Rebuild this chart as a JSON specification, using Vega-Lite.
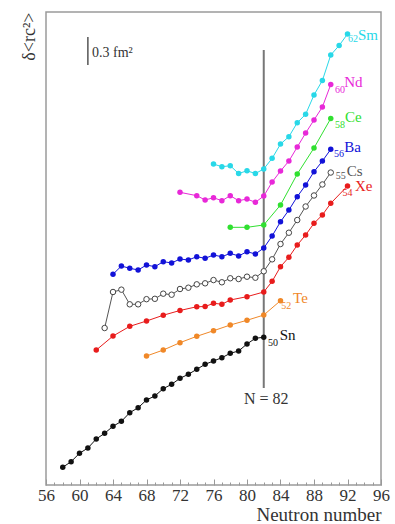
{
  "$schema": "https://vega.github.io/schema/vega-lite/v6.json",
  "width": 335,
  "height": 473,
  "autosize": "none",
  "padding": {"left": 46, "top": 12, "right": 14, "bottom": 39},
  "background": "white",
  "config": {
    "view": {"stroke": "#9a9a9a", "strokeWidth": 1.5},
    "font": "Liberation Serif, Times New Roman, serif",
    "text": {"font": "Liberation Serif, Times New Roman, serif"},
    "axis": {"labelFont": "Liberation Serif, Times New Roman, serif", "titleFont": "Liberation Serif, Times New Roman, serif"}
  },
  "datasets": {
    "series": [
      {"s": "Sn", "n": 58, "v": 0.190}, {"s": "Sn", "n": 59, "v": 0.250}, {"s": "Sn", "n": 60, "v": 0.340},
      {"s": "Sn", "n": 61, "v": 0.396}, {"s": "Sn", "n": 62, "v": 0.493}, {"s": "Sn", "n": 63, "v": 0.554},
      {"s": "Sn", "n": 64, "v": 0.629}, {"s": "Sn", "n": 65, "v": 0.682}, {"s": "Sn", "n": 66, "v": 0.775},
      {"s": "Sn", "n": 67, "v": 0.828}, {"s": "Sn", "n": 68, "v": 0.911}, {"s": "Sn", "n": 69, "v": 0.954},
      {"s": "Sn", "n": 70, "v": 1.032}, {"s": "Sn", "n": 71, "v": 1.079}, {"s": "Sn", "n": 72, "v": 1.143},
      {"s": "Sn", "n": 73, "v": 1.186}, {"s": "Sn", "n": 74, "v": 1.240}, {"s": "Sn", "n": 75, "v": 1.293},
      {"s": "Sn", "n": 76, "v": 1.329}, {"s": "Sn", "n": 77, "v": 1.364}, {"s": "Sn", "n": 78, "v": 1.411},
      {"s": "Sn", "n": 79, "v": 1.436}, {"s": "Sn", "n": 80, "v": 1.511}, {"s": "Sn", "n": 81, "v": 1.572},
      {"s": "Sn", "n": 82, "v": 1.583},
      {"s": "Te", "n": 68, "v": 1.382}, {"s": "Te", "n": 70, "v": 1.446}, {"s": "Te", "n": 72, "v": 1.525},
      {"s": "Te", "n": 74, "v": 1.593}, {"s": "Te", "n": 76, "v": 1.653}, {"s": "Te", "n": 78, "v": 1.714},
      {"s": "Te", "n": 80, "v": 1.765}, {"s": "Te", "n": 82, "v": 1.821}, {"s": "Te", "n": 84, "v": 1.975},
      {"s": "Xe", "n": 62, "v": 1.446}, {"s": "Xe", "n": 64, "v": 1.596}, {"s": "Xe", "n": 66, "v": 1.700},
      {"s": "Xe", "n": 68, "v": 1.757}, {"s": "Xe", "n": 70, "v": 1.819}, {"s": "Xe", "n": 72, "v": 1.870},
      {"s": "Xe", "n": 74, "v": 1.910}, {"s": "Xe", "n": 75, "v": 1.912}, {"s": "Xe", "n": 76, "v": 1.947},
      {"s": "Xe", "n": 77, "v": 1.937}, {"s": "Xe", "n": 78, "v": 1.982}, {"s": "Xe", "n": 80, "v": 2.018},
      {"s": "Xe", "n": 82, "v": 2.068}, {"s": "Xe", "n": 83, "v": 2.182}, {"s": "Xe", "n": 84, "v": 2.339},
      {"s": "Xe", "n": 85, "v": 2.440}, {"s": "Xe", "n": 86, "v": 2.571}, {"s": "Xe", "n": 87, "v": 2.679},
      {"s": "Xe", "n": 88, "v": 2.804}, {"s": "Xe", "n": 89, "v": 2.893}, {"s": "Xe", "n": 90, "v": 3.018},
      {"s": "Xe", "n": 92, "v": 3.204},
      {"s": "Cs", "n": 63, "v": 1.682}, {"s": "Cs", "n": 64, "v": 2.068}, {"s": "Cs", "n": 65, "v": 2.093},
      {"s": "Cs", "n": 66, "v": 1.936}, {"s": "Cs", "n": 67, "v": 1.936}, {"s": "Cs", "n": 68, "v": 1.991},
      {"s": "Cs", "n": 69, "v": 1.995}, {"s": "Cs", "n": 70, "v": 2.050}, {"s": "Cs", "n": 71, "v": 2.039},
      {"s": "Cs", "n": 72, "v": 2.100}, {"s": "Cs", "n": 73, "v": 2.114}, {"s": "Cs", "n": 74, "v": 2.150},
      {"s": "Cs", "n": 75, "v": 2.161}, {"s": "Cs", "n": 76, "v": 2.196}, {"s": "Cs", "n": 77, "v": 2.172},
      {"s": "Cs", "n": 78, "v": 2.215}, {"s": "Cs", "n": 79, "v": 2.207}, {"s": "Cs", "n": 80, "v": 2.232},
      {"s": "Cs", "n": 81, "v": 2.221}, {"s": "Cs", "n": 82, "v": 2.290}, {"s": "Cs", "n": 83, "v": 2.418},
      {"s": "Cs", "n": 84, "v": 2.582}, {"s": "Cs", "n": 85, "v": 2.703}, {"s": "Cs", "n": 86, "v": 2.839},
      {"s": "Cs", "n": 87, "v": 2.984}, {"s": "Cs", "n": 88, "v": 3.102}, {"s": "Cs", "n": 89, "v": 3.220},
      {"s": "Cs", "n": 90, "v": 3.348},
      {"s": "Ba", "n": 64, "v": 2.258}, {"s": "Ba", "n": 65, "v": 2.346}, {"s": "Ba", "n": 66, "v": 2.322},
      {"s": "Ba", "n": 67, "v": 2.304}, {"s": "Ba", "n": 68, "v": 2.357}, {"s": "Ba", "n": 69, "v": 2.339},
      {"s": "Ba", "n": 70, "v": 2.393}, {"s": "Ba", "n": 71, "v": 2.379}, {"s": "Ba", "n": 72, "v": 2.421},
      {"s": "Ba", "n": 73, "v": 2.411}, {"s": "Ba", "n": 74, "v": 2.446}, {"s": "Ba", "n": 75, "v": 2.429},
      {"s": "Ba", "n": 76, "v": 2.464}, {"s": "Ba", "n": 77, "v": 2.446}, {"s": "Ba", "n": 78, "v": 2.482},
      {"s": "Ba", "n": 79, "v": 2.454}, {"s": "Ba", "n": 80, "v": 2.500}, {"s": "Ba", "n": 81, "v": 2.475},
      {"s": "Ba", "n": 82, "v": 2.539}, {"s": "Ba", "n": 83, "v": 2.668}, {"s": "Ba", "n": 84, "v": 2.821},
      {"s": "Ba", "n": 85, "v": 2.946}, {"s": "Ba", "n": 86, "v": 3.089}, {"s": "Ba", "n": 87, "v": 3.214},
      {"s": "Ba", "n": 88, "v": 3.357}, {"s": "Ba", "n": 89, "v": 3.471}, {"s": "Ba", "n": 90, "v": 3.597},
      {"s": "Ce", "n": 78, "v": 2.761}, {"s": "Ce", "n": 80, "v": 2.761}, {"s": "Ce", "n": 82, "v": 2.786},
      {"s": "Ce", "n": 84, "v": 3.000}, {"s": "Ce", "n": 86, "v": 3.332}, {"s": "Ce", "n": 88, "v": 3.611},
      {"s": "Ce", "n": 90, "v": 3.927},
      {"s": "Nd", "n": 72, "v": 3.136}, {"s": "Nd", "n": 74, "v": 3.100}, {"s": "Nd", "n": 75, "v": 3.054},
      {"s": "Nd", "n": 76, "v": 3.078}, {"s": "Nd", "n": 77, "v": 3.046}, {"s": "Nd", "n": 78, "v": 3.100},
      {"s": "Nd", "n": 79, "v": 3.046}, {"s": "Nd", "n": 80, "v": 3.064}, {"s": "Nd", "n": 81, "v": 3.029},
      {"s": "Nd", "n": 82, "v": 3.096}, {"s": "Nd", "n": 83, "v": 3.246}, {"s": "Nd", "n": 84, "v": 3.364},
      {"s": "Nd", "n": 85, "v": 3.471}, {"s": "Nd", "n": 86, "v": 3.621}, {"s": "Nd", "n": 87, "v": 3.771},
      {"s": "Nd", "n": 88, "v": 3.911}, {"s": "Nd", "n": 89, "v": 4.050}, {"s": "Nd", "n": 90, "v": 4.291},
      {"s": "Sm", "n": 76, "v": 3.439}, {"s": "Sm", "n": 77, "v": 3.410}, {"s": "Sm", "n": 78, "v": 3.421},
      {"s": "Sm", "n": 79, "v": 3.337}, {"s": "Sm", "n": 80, "v": 3.367}, {"s": "Sm", "n": 81, "v": 3.337},
      {"s": "Sm", "n": 82, "v": 3.386}, {"s": "Sm", "n": 83, "v": 3.500}, {"s": "Sm", "n": 84, "v": 3.653},
      {"s": "Sm", "n": 85, "v": 3.732}, {"s": "Sm", "n": 86, "v": 3.882}, {"s": "Sm", "n": 87, "v": 3.972},
      {"s": "Sm", "n": 88, "v": 4.179}, {"s": "Sm", "n": 89, "v": 4.334}, {"s": "Sm", "n": 90, "v": 4.607},
      {"s": "Sm", "n": 91, "v": 4.709}, {"s": "Sm", "n": 92, "v": 4.832}
    ],
    "labels": [
      {"s": "Sm", "sub": "62", "el": "Sm", "n": 92.06, "v": 4.747, "n2": 93.25, "v2": 4.768},
      {"s": "Nd", "sub": "60", "el": "Nd", "n": 90.5, "v": 4.197, "n2": 91.6, "v2": 4.261},
      {"s": "Ce", "sub": "58", "el": "Ce", "n": 90.5, "v": 3.828, "n2": 91.7, "v2": 3.889},
      {"s": "Ba", "sub": "56", "el": "Ba", "n": 90.4, "v": 3.511, "n2": 91.6, "v2": 3.571},
      {"s": "Cs", "sub": "55", "el": "Cs", "n": 90.6, "v": 3.275, "n2": 91.9, "v2": 3.313},
      {"s": "Xe", "sub": "54", "el": "Xe", "n": 91.4, "v": 3.100, "n2": 92.9, "v2": 3.150},
      {"s": "Te", "sub": "52", "el": "Te", "n": 84.1, "v": 1.882, "n2": 85.5, "v2": 1.953},
      {"s": "Sn", "sub": "50", "el": "Sn", "n": 82.5, "v": 1.489, "n2": 83.9, "v2": 1.554}
    ]
  },
  "encoding": {
    "x": {
      "field": "n", "type": "quantitative",
      "scale": {"domain": [56, 96], "nice": false, "zero": false},
      "axis": {
        "title": "Neutron number",
        "titleAnchor": "end",
        "titleFont": "Liberation Serif, Times New Roman, serif",
        "titleFontSize": 19,
        "titleFontWeight": "normal",
        "titleColor": "#333",
        "titlePadding": -1,
        "values": [56,57,58,59,60,61,62,63,64,65,66,67,68,69,70,71,72,73,74,75,76,77,78,79,80,81,82,83,84,85,86,87,88,89,90,91,92,93,94,95,96],
        "labelExpr": "datum.value % 4 === 0 ? datum.label : ''",
        "labelFont": "Liberation Serif, Times New Roman, serif",
        "labelFontSize": 17,
        "labelColor": "#333",
        "labelPadding": 8,
        "labelOverlap": false,
        "labelFlush": false,
        "domain": false,
        "grid": false,
        "tickColor": "#999",
        "tickSize": {"condition": {"test": "datum.value % 4 === 0", "value": -6}, "value": -3}
      }
    },
    "y": {
      "field": "v", "type": "quantitative",
      "scale": {"domain": [0, 5.068], "nice": false, "zero": false},
      "axis": {
        "title": "δ<rc²>",
        "titleAnchor": "end",
        "titleFont": "Liberation Serif, Times New Roman, serif",
        "titleFontSize": 18,
        "titleFontWeight": "normal",
        "titleColor": "#333",
        "titlePadding": 8,
        "labels": false,
        "ticks": false,
        "domain": false,
        "grid": false
      }
    }
  },
  "layer": [
    {
      "data": {"values": [{"n": 82, "v": 1.039, "v2": 4.661}]},
      "mark": {"type": "rule", "color": "#777", "strokeWidth": 2},
      "encoding": {"y2": {"field": "v2"}}
    },
    {
      "data": {"values": [{"n": 61, "v": 4.5, "v2": 4.8}]},
      "mark": {"type": "rule", "color": "#555", "strokeWidth": 1.5},
      "encoding": {"y2": {"field": "v2"}}
    },
    {
      "data": {"values": [{"n": 61.5, "v": 4.582, "t": "0.3 fm²"}]},
      "mark": {"type": "text", "align": "left", "baseline": "alphabetic", "fontSize": 14, "color": "#333", "font": "Liberation Serif, Times New Roman, serif"},
      "encoding": {"text": {"field": "t"}}
    },
    {
      "data": {"values": [{"n": 82.3, "v": 0.868, "t": "N = 82"}]},
      "mark": {"type": "text", "align": "center", "baseline": "alphabetic", "fontSize": 16, "color": "#333", "font": "Liberation Serif, Times New Roman, serif"},
      "encoding": {"text": {"field": "t"}}
    },
    {
      "data": {"name": "series"},
      "mark": {"type": "line", "strokeWidth": 1},
      "encoding": {
        "color": {"field": "s", "type": "nominal", "legend": null,
          "scale": {"domain": ["Sn","Te","Xe","Cs","Ba","Ce","Nd","Sm"],
                    "range": ["#111111","#f08828","#e81c1c","#555555","#1212d8","#30e030","#e828d8","#28d8e8"]}}
      }
    },
    {
      "data": {"name": "series"},
      "transform": [{"filter": "datum.s !== 'Cs'"}],
      "mark": {"type": "point", "filled": true, "size": 30, "opacity": 1},
      "encoding": {"color": {"field": "s", "type": "nominal", "legend": null}}
    },
    {
      "data": {"name": "series"},
      "transform": [{"filter": "datum.s === 'Cs'"}],
      "mark": {"type": "point", "filled": false, "fill": "white", "stroke": "#444", "strokeWidth": 1, "size": 30, "opacity": 1},
      "encoding": {}
    },
    {
      "data": {"name": "labels"},
      "mark": {"type": "text", "align": "left", "baseline": "alphabetic", "fontSize": 10, "font": "Liberation Serif, Times New Roman, serif"},
      "encoding": {
        "text": {"field": "sub"},
        "color": {"field": "s", "type": "nominal", "legend": null}
      }
    },
    {
      "data": {"name": "labels"},
      "mark": {"type": "text", "align": "left", "baseline": "alphabetic", "fontSize": 15, "font": "Liberation Serif, Times New Roman, serif"},
      "encoding": {
        "x": {"field": "n2", "type": "quantitative"},
        "y": {"field": "v2", "type": "quantitative"},
        "text": {"field": "el"},
        "color": {"field": "s", "type": "nominal", "legend": null}
      }
    }
  ]
}
